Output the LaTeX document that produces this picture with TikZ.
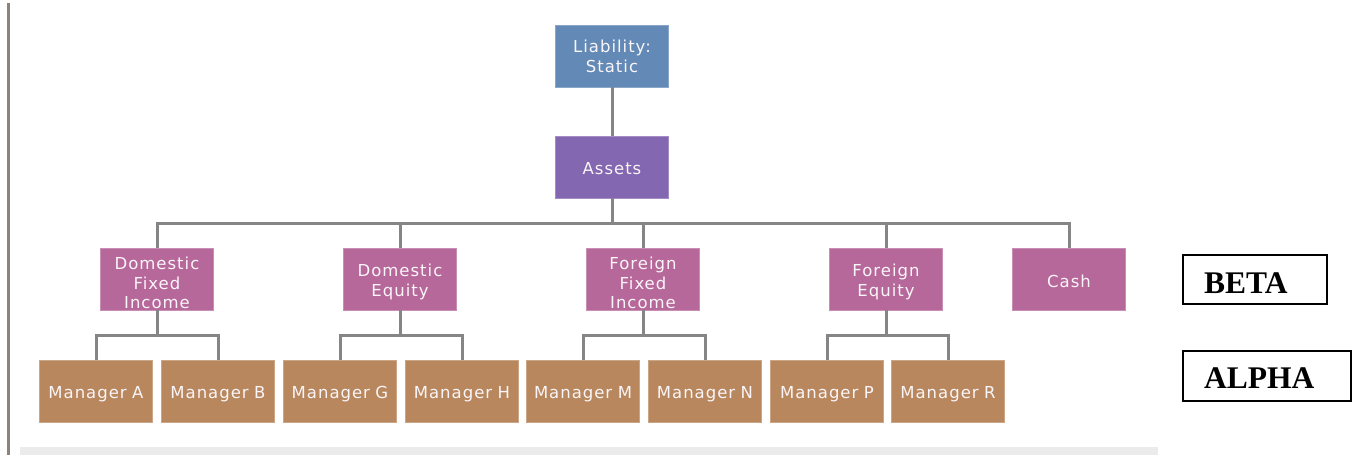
\documentclass[tikz,border=0pt]{standalone}
\usepackage{fontspec}
\setmainfont{Liberation Serif}
\newfontfamily\boxfont[LetterSpace=6]{DejaVu Sans}
\definecolor{cLiab}{HTML}{638AB6}
\definecolor{cAssets}{HTML}{8467B1}
\definecolor{cCls}{HTML}{B7689A}
\definecolor{cMgr}{HTML}{B8875E}
\definecolor{cLine}{HTML}{858585}
\definecolor{cBar}{HTML}{8C8379}
\definecolor{cStrip}{HTML}{EBEBEB}
\definecolor{cTxt}{HTML}{FAF5F8}
\begin{document}
\begin{tikzpicture}[x=1pt,y=-1pt,
  txt/.style={inner sep=0pt, align=center, text width=111pt, font=\boxfont\fontsize{16.5}{19.5}\selectfont, text=cTxt},
  box/.style={rectangle, minimum width=113pt, minimum height=62pt, inner sep=0pt, line width=0.8pt},
  lbl/.style 2 args={label={[txt,yshift=#1]center:#2}},
  liab/.style={box, fill=cLiab, draw=cLiab!75!white},
  assets/.style={box, fill=cAssets, draw=cAssets!75!white},
  cls/.style={box, fill=cCls, draw=cCls!75!white},
  mgr/.style={box, fill=cMgr, draw=cMgr!75!white, lbl={-3.5pt}{#1}},
  conn/.style={draw=cLine, line width=3pt},
  tagbox/.style={draw=black, line width=2pt, fill=white, inner sep=0pt},
  tagtxt/.style={inner sep=0pt, font=\bfseries\fontsize{31.5}{31.5}\selectfont}
]
\path[fill=white] (0,0) rectangle (1357,455);
\useasboundingbox (0,0) rectangle (1357,455);
\fill[cBar] (7,3) rectangle (9.5,455);
\fill[cStrip] (20,447) rectangle (1158,455);

% level 0 / 1
\node[liab,lbl={-0.5pt}{Liability:\\Static}] (liab) at (612,56) {};
\node[assets,lbl={-2pt}{Assets}] (assets) at (612,167) {};

% level 2
\node[cls,lbl={-4pt}{Domestic\\Fixed\\Income}] (dfi) at (157,279) {};
\node[cls,lbl={-3pt}{Domestic\\Equity}] (deq) at (400,279) {};
\node[cls,lbl={-4pt}{Foreign\\Fixed\\Income}] (ffi) at (643,279) {};
\node[cls,lbl={-3pt}{Foreign\\Equity}] (feq) at (886,279) {};
\node[cls,lbl={-2pt}{Cash}] (cash) at (1069,279) {};

% level 3
\node[mgr={Manager A}] (mA) at (96,391) {};
\node[mgr={Manager B}] (mB) at (218,391) {};
\node[mgr={Manager G}] (mG) at (340,391) {};
\node[mgr={Manager H}] (mH) at (462,391) {};
\node[mgr={Manager M}] (mM) at (583,391) {};
\node[mgr={Manager N}] (mN) at (705,391) {};
\node[mgr={Manager P}] (mP) at (827,391) {};
\node[mgr={Manager R}] (mR) at (948,391) {};

% connectors
\draw[conn] (liab.south) -- (assets.north);
\draw[conn] (assets.south) -- ++(0,25) coordinate (bus1);
\draw[conn] (dfi.north) |- (bus1) -| (cash.north);
\foreach \n in {deq,ffi,feq} \draw[conn] (\n.north) -- (\n.north |- bus1);

\draw[conn] (dfi.south) -- ++(0,25) coordinate (b2);
\draw[conn] (mA.north) |- (b2) -| (mB.north);
\draw[conn] (deq.south) -- ++(0,25) coordinate (b3);
\draw[conn] (mG.north) |- (b3) -| (mH.north);
\draw[conn] (ffi.south) -- ++(0,25) coordinate (b4);
\draw[conn] (mM.north) |- (b4) -| (mN.north);
\draw[conn] (feq.south) -- ++(0,25) coordinate (b5);
\draw[conn] (mP.north) |- (b5) -| (mR.north);

% tags
\node[tagbox, minimum width=144pt, minimum height=49pt] (betabox) at (1255,279.5) {};
\node[tagtxt, anchor=base west] (betatxt) at (1204,293) {BETA};
\node[tagbox, minimum width=168pt, minimum height=50pt] (alphabox) at (1267,376) {};
\node[tagtxt, anchor=base west] (alphatxt) at (1204,388) {ALPHA};
\end{tikzpicture}
\end{document}
